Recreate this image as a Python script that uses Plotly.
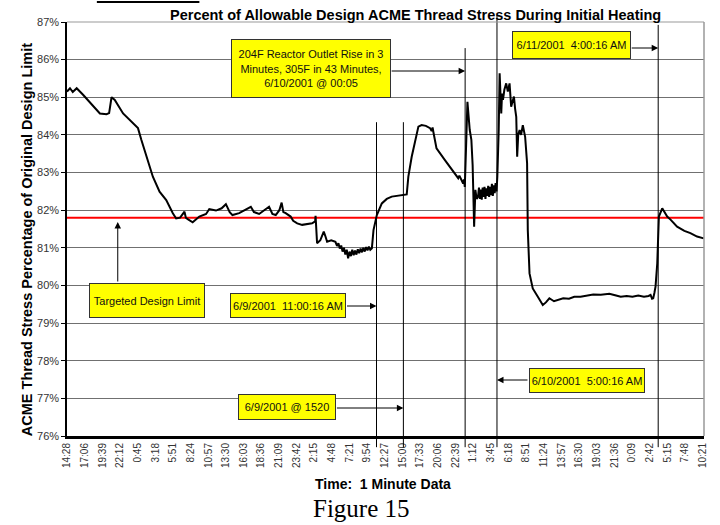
import plotly.graph_objects as go

# ---------------- data ----------------
tick_labels = ["14:28", "17:06", "19:39", "22:12", "0:45", "3:18", "5:51", "8:24", "10:57",
               "13:30", "16:03", "18:36", "21:09", "23:42", "2:15", "4:48", "7:21", "9:54",
               "12:27", "15:00", "17:33", "20:06", "22:39", "1:12", "3:45", "6:18", "8:51",
               "11:24", "13:57", "16:30", "19:03", "21:36", "0:09", "2:42", "5:15", "7:48", "10:21"]
tick_step = 153  # one-minute samples between category labels

minutes = [0, 26, 50, 69, 84, 141, 227, 285, 342, 365, 386, 414, 486, 558, 615, 644, 687, 744,
           802, 860, 917, 946, 980, 1018, 1030, 1046, 1089, 1147, 1205, 1233, 1291, 1340, 1377,
           1410, 1434, 1492, 1593, 1620, 1665, 1751, 1780, 1809, 1840, 1860, 1875, 1895, 1938,
           1960, 1995, 2038, 2124, 2150, 2154, 2160, 2167, 2195, 2225, 2240, 2254, 2290, 2326,
           2340, 2352, 2364, 2376, 2388, 2400, 2412, 2424, 2436, 2448, 2460, 2472, 2484, 2496,
           2508, 2520, 2532, 2544, 2556, 2568, 2580, 2592, 2604, 2616, 2628, 2642, 2656, 2685,
           2728, 2771, 2814, 2901, 2944, 2958, 2987, 3045, 3073, 3110, 3146, 3160, 3168, 3174,
           3202, 3275, 3361, 3390, 3400, 3420, 3433, 3440, 3447, 3461, 3470, 3480, 3490, 3504,
           3515, 3528, 3539, 3550, 3562, 3570, 3578, 3586, 3594, 3602, 3610, 3618, 3626, 3634,
           3642, 3650, 3658, 3666, 3674, 3682, 3690, 3698, 3706, 3714, 3722, 3729, 3741, 3749,
           3756, 3763, 3770, 3778, 3790, 3806, 3820, 3835, 3849, 3860, 3873, 3883, 3893, 3901,
           3910, 3922, 3935, 3950, 3960, 3970, 3987, 3993, 4008, 4036, 4080, 4123, 4150, 4180,
           4220, 4252, 4300, 4350, 4396, 4450, 4500, 4560, 4626, 4700, 4750, 4798, 4850, 4900,
           4950, 5000, 5040, 5057, 5070, 5080, 5090, 5100, 5115, 5129, 5158, 5201, 5230, 5287,
           5350, 5402, 5460, 5517]

stress_pct = [85.15, 85.24, 85.14, 85.21, 85.24, 85.06, 84.75, 84.57, 84.55, 84.58, 85.0, 84.93,
              84.57, 84.35, 84.18, 83.87, 83.42, 82.89, 82.49, 82.27, 81.92, 81.78, 81.80, 81.96,
              81.80, 81.76, 81.68, 81.83, 81.90, 82.03, 81.99, 82.05, 82.16, 81.95, 81.87, 81.92,
              82.09, 81.95, 81.90, 82.09, 81.90, 81.87, 82.0, 82.2, 81.95, 81.92, 81.83, 81.72,
              81.65, 81.61, 81.65, 81.70, 81.85, 81.60, 81.12, 81.20, 81.43, 81.30, 81.16, 81.20,
              81.16, 81.05, 81.12, 80.98, 81.06, 80.90, 81.00, 80.82, 80.95, 80.72, 80.90, 80.78,
              80.95, 80.80, 80.93, 80.82, 80.96, 80.86, 80.98, 80.88, 81.00, 80.90, 81.02, 80.93,
              81.03, 80.95, 80.99, 81.47, 81.87, 82.18, 82.30, 82.36, 82.40, 82.42, 82.89, 83.42,
              84.22, 84.26, 84.24, 84.18, 84.10, 84.20, 84.09, 83.64, 83.33, 82.98, 82.85, 82.92,
              82.76, 82.71, 82.82, 82.62, 83.95, 84.88, 84.50, 84.13, 83.87, 83.20, 81.56, 82.54,
              82.30, 82.36, 82.60, 82.30, 82.55, 82.28, 82.60, 82.35, 82.62, 82.30, 82.58, 82.38,
              82.65, 82.35, 82.62, 82.40, 82.70, 82.38, 82.66, 82.45, 82.72, 82.50, 82.89, 84.13,
              85.64, 84.80, 84.57, 85.10, 84.93, 85.20, 85.37, 85.15, 85.37, 84.75, 84.90, 85.02,
              84.70, 84.48, 83.42, 84.00, 84.13, 84.00, 84.26, 84.10, 83.95, 83.25, 81.47, 80.32,
              79.92, 79.70, 79.48, 79.55, 79.66, 79.58, 79.61, 79.66, 79.65, 79.70, 79.70, 79.72,
              79.76, 79.75, 79.78, 79.74, 79.70, 79.72, 79.70, 79.73, 79.70, 79.72, 79.75, 79.65,
              79.66, 79.80, 79.97, 80.59, 81.83, 82.05, 81.83, 81.75, 81.56, 81.45, 81.39, 81.30,
              81.25]

target_limit = 81.8
x_end = 5520

# event markers: minute of event and top of the marker line (fraction of plot height)
event_minutes = [2682, 2915, 3450, 3726, 5123]
event_tops = [0.758, 0.758, 0.937, 1.017, 0.993]

FONT = "Arial, Liberation Sans, sans-serif"

fig = go.Figure()
fig.add_trace(go.Scatter(x=[0, x_end], y=[target_limit, target_limit], mode="lines",
                         line=dict(color="#ff0000", width=2), hoverinfo="skip", showlegend=False))
fig.add_trace(go.Scatter(x=minutes, y=stress_pct, mode="lines",
                         line=dict(color="black", width=2), showlegend=False))

shapes = []
for m, top in zip(event_minutes, event_tops):
    shapes.append(dict(type="line", xref="x", yref="paper", x0=m, x1=m, y0=-0.027, y1=top,
                       line=dict(color="black", width=1)))
# plot-area border (top/right)
shapes.append(dict(type="line", xref="paper", yref="paper", x0=0, x1=1, y0=1, y1=1,
                   line=dict(color="#999999", width=1)))
shapes.append(dict(type="line", xref="paper", yref="paper", x0=1, x1=1, y0=0, y1=1,
                   line=dict(color="#999999", width=1.5)))
# underline of cut-off heading at top of page
shapes.append(dict(type="line", xref="paper", yref="paper",
                   x0=(97 - 67) / 640, x1=(200 - 67) / 640, y0=(436 - 2) / 414, y1=(436 - 2) / 414,
                   line=dict(color="black", width=2)))

def px(xp):
    return (xp - 67) / 640

def py(yp):
    return (436 - yp) / 414

annotations = []

def box(text, cx, cy, w, h):
    annotations.append(dict(text=text, xref="paper", yref="paper", x=px(cx), y=py(cy),
                            xanchor="center", yanchor="middle", showarrow=False,
                            width=w - 4, height=h - 4, borderpad=1, borderwidth=1,
                            bordercolor="#333333", bgcolor="#ffff00",
                            font=dict(family=FONT, size=11, color="#111111"), align="center"))

def arrow(tip_x, tip_xref, tip_y, ax, ay):
    annotations.append(dict(text="", xref=tip_xref, yref="paper", x=tip_x, y=tip_y,
                            showarrow=True, ax=ax, ay=ay, arrowhead=2, arrowsize=1.3,
                            arrowwidth=1, arrowcolor="black", standoff=0, startstandoff=0))

box("204F Reactor Outlet Rise in 3<br>Minutes, 305F in 43 Minutes,<br>6/10/2001 @ 00:05", 312, 68.5, 160, 59)
arrow(event_minutes[2], "x", py(71), -75, 0)
box("6/11/2001\u00a0 4:00:16 AM", 573.5, 45, 119, 28)
arrow(event_minutes[4], "x", py(48), -28, 0)
box("Targeted Design Limit", 147, 300.5, 116, 35)
arrow(px(118), "paper", py(222), 0, 61)
box("6/9/2001\u00a0 11:00:16 AM", 289, 305.5, 116, 25)
arrow(event_minutes[0], "x", py(306), -31, 0)
box("6/9/2001 @ 1520", 288, 407, 98, 26)
arrow(event_minutes[1], "x", py(408), -68, 0)
box("6/10/2001\u00a0 5:00:16 AM", 589, 380.5, 116, 25)
arrow(event_minutes[3], "x", py(380), 32, 0)

# titles
annotations.append(dict(text="<b>Percent of Allowable Design ACME Thread Stress During Initial Heating</b>",
                        xref="paper", yref="paper", x=px(417), y=py(15), xanchor="center",
                        yanchor="middle", showarrow=False,
                        font=dict(family=FONT, size=14.5, color="black")))
annotations.append(dict(text="<b>ACME Thread Stress Percentage of Original Design Limit</b>",
                        xref="paper", yref="paper", x=px(27), y=py(240), xanchor="center",
                        yanchor="middle", showarrow=False, textangle=-90,
                        font=dict(family=FONT, size=14.5, color="black")))
annotations.append(dict(text="<b>Time:\u00a0 1 Minute Data</b>", xref="paper", yref="paper",
                        x=px(384), y=py(484), xanchor="center", yanchor="middle",
                        showarrow=False, font=dict(family=FONT, size=14, color="black")))
annotations.append(dict(text="Figure 15", xref="paper", yref="paper",
                        x=px(362.5), y=py(509), xanchor="center", yanchor="middle",
                        showarrow=False,
                        font=dict(family="Times New Roman, Liberation Serif, serif", size=25,
                                  color="black")))

fig.update_layout(
    width=720, height=525,
    margin=dict(l=67, r=13, t=22, b=89),
    paper_bgcolor="white", plot_bgcolor="white",
    shapes=shapes, annotations=annotations,
    xaxis=dict(range=[0, x_end], tickmode="array",
               tickvals=[i * tick_step for i in range(len(tick_labels))],
               ticktext=tick_labels, tickangle=-90, showgrid=False, zeroline=False,
               showline=True, linecolor="black", linewidth=3, ticks="",
               tickfont=dict(family=FONT, size=10, color="#333333")),
    yaxis=dict(range=[76, 87], dtick=1, tickformat=".0f", ticksuffix="%",
               showgrid=True, gridcolor="#707070", gridwidth=1, zeroline=False,
               showline=True, linecolor="black", linewidth=1.5,
               ticks="outside", ticklen=4, tickcolor="black",
               tickfont=dict(family=FONT, size=11, color="#333333")),
    showlegend=False,
)

fig.write_html("out.html")
